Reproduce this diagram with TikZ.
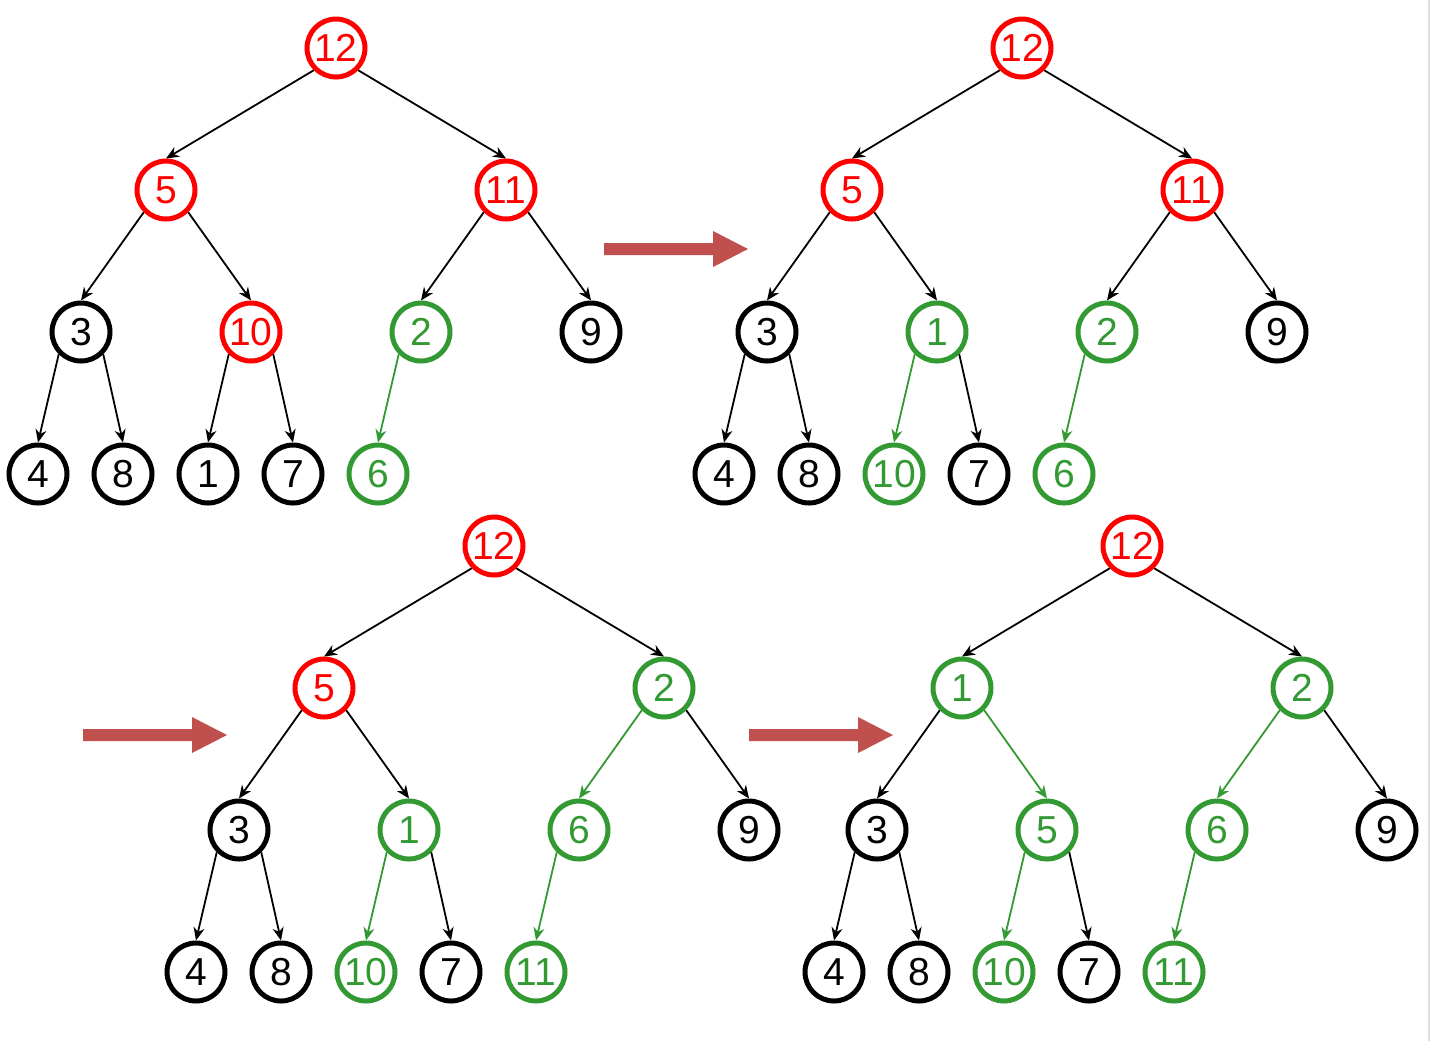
\documentclass[tikz,border=0pt]{standalone}
\usepackage{fontspec}
\setmainfont{Liberation Sans}
\usetikzlibrary{arrows.meta}
\definecolor{rouge}{RGB}{255,0,0}
\definecolor{vert}{RGB}{51,153,51}
\definecolor{fleche}{RGB}{192,80,77}
\definecolor{bord}{RGB}{222,222,222}
\tikzset{
  noeud/.style={circle, draw, line width=2.5pt, minimum size=29pt, inner sep=0pt,
    font=\fontsize{19.5}{21}\selectfont},
  nnoir/.style={noeud, draw=black, text=black},
  nrouge/.style={noeud, draw=rouge, text=rouge},
  nvert/.style={noeud, draw=vert, text=vert},
  arete/.style={-{Stealth[length=6.5pt,width=5.5pt]}, line width=0.9pt},
  areteverte/.style={arete, draw=vert, fill=vert},
}
\begin{document}
\begin{tikzpicture}[x=0.5pt, y=-0.5pt]
\useasboundingbox (0,0) rectangle (1431,1041);

% Bord de page
\draw[bord, line width=1pt] (1429,0) -- (1429,1041);

% Grosses fleches
\foreach \x/\y in {604/249, 83/735, 749/735}
  \fill[fleche, shift={(\x,\y)}] (0,-6) -- (109,-6) -- (109,-18) -- (144,0)
    -- (109,18) -- (109,6) -- (0,6) -- cycle;

% Arbre 1
\begin{scope}[shift={(336,48)}]
\node[nrouge] (a-r) at (0,0) {12};
\node[nrouge] (a-g) at (-170,142) {5};
\node[nrouge] (a-d) at (170,142) {11};
\node[nnoir] (a-gg) at (-255,284) {3};
\node[nrouge] (a-gd) at (-85,284) {10};
\node[nvert] (a-dg) at (85,284) {2};
\node[nnoir] (a-dd) at (255,284) {9};
\node[nnoir] (a-f1) at (-298,426) {4};
\node[nnoir] (a-f2) at (-213,426) {8};
\node[nnoir] (a-f3) at (-128,426) {1};
\node[nnoir] (a-f4) at (-43,426) {7};
\node[nvert] (a-f5) at (42,426) {6};
\draw[arete] (a-r.south west) -- (a-g.north);
\draw[arete] (a-r.south east) -- (a-d.north);
\draw[arete] (a-g.south west) -- (a-gg.north);
\draw[arete] (a-g.south east) -- (a-gd.north);
\draw[arete] (a-d.south west) -- (a-dg.north);
\draw[arete] (a-d.south east) -- (a-dd.north);
\draw[arete] (a-gg.south west) -- (a-f1.north);
\draw[arete] (a-gg.south east) -- (a-f2.north);
\draw[arete] (a-gd.south west) -- (a-f3.north);
\draw[arete] (a-gd.south east) -- (a-f4.north);
\draw[areteverte] (a-dg.south west) -- (a-f5.north);
\end{scope}

% Arbre 2
\begin{scope}[shift={(1022,48)}]
\node[nrouge] (b-r) at (0,0) {12};
\node[nrouge] (b-g) at (-170,142) {5};
\node[nrouge] (b-d) at (170,142) {11};
\node[nnoir] (b-gg) at (-255,284) {3};
\node[nvert] (b-gd) at (-85,284) {1};
\node[nvert] (b-dg) at (85,284) {2};
\node[nnoir] (b-dd) at (255,284) {9};
\node[nnoir] (b-f1) at (-298,426) {4};
\node[nnoir] (b-f2) at (-213,426) {8};
\node[nvert] (b-f3) at (-128,426) {10};
\node[nnoir] (b-f4) at (-43,426) {7};
\node[nvert] (b-f5) at (42,426) {6};
\draw[arete] (b-r.south west) -- (b-g.north);
\draw[arete] (b-r.south east) -- (b-d.north);
\draw[arete] (b-g.south west) -- (b-gg.north);
\draw[arete] (b-g.south east) -- (b-gd.north);
\draw[arete] (b-d.south west) -- (b-dg.north);
\draw[arete] (b-d.south east) -- (b-dd.north);
\draw[arete] (b-gg.south west) -- (b-f1.north);
\draw[arete] (b-gg.south east) -- (b-f2.north);
\draw[areteverte] (b-gd.south west) -- (b-f3.north);
\draw[arete] (b-gd.south east) -- (b-f4.north);
\draw[areteverte] (b-dg.south west) -- (b-f5.north);
\end{scope}

% Arbre 3
\begin{scope}[shift={(494,546)}]
\node[nrouge] (c-r) at (0,0) {12};
\node[nrouge] (c-g) at (-170,142) {5};
\node[nvert] (c-d) at (170,142) {2};
\node[nnoir] (c-gg) at (-255,284) {3};
\node[nvert] (c-gd) at (-85,284) {1};
\node[nvert] (c-dg) at (85,284) {6};
\node[nnoir] (c-dd) at (255,284) {9};
\node[nnoir] (c-f1) at (-298,426) {4};
\node[nnoir] (c-f2) at (-213,426) {8};
\node[nvert] (c-f3) at (-128,426) {10};
\node[nnoir] (c-f4) at (-43,426) {7};
\node[nvert] (c-f5) at (42,426) {11};
\draw[arete] (c-r.south west) -- (c-g.north);
\draw[arete] (c-r.south east) -- (c-d.north);
\draw[arete] (c-g.south west) -- (c-gg.north);
\draw[arete] (c-g.south east) -- (c-gd.north);
\draw[areteverte] (c-d.south west) -- (c-dg.north);
\draw[arete] (c-d.south east) -- (c-dd.north);
\draw[arete] (c-gg.south west) -- (c-f1.north);
\draw[arete] (c-gg.south east) -- (c-f2.north);
\draw[areteverte] (c-gd.south west) -- (c-f3.north);
\draw[arete] (c-gd.south east) -- (c-f4.north);
\draw[areteverte] (c-dg.south west) -- (c-f5.north);
\end{scope}

% Arbre 4
\begin{scope}[shift={(1132,546)}]
\node[nrouge] (d-r) at (0,0) {12};
\node[nvert] (d-g) at (-170,142) {1};
\node[nvert] (d-d) at (170,142) {2};
\node[nnoir] (d-gg) at (-255,284) {3};
\node[nvert] (d-gd) at (-85,284) {5};
\node[nvert] (d-dg) at (85,284) {6};
\node[nnoir] (d-dd) at (255,284) {9};
\node[nnoir] (d-f1) at (-298,426) {4};
\node[nnoir] (d-f2) at (-213,426) {8};
\node[nvert] (d-f3) at (-128,426) {10};
\node[nnoir] (d-f4) at (-43,426) {7};
\node[nvert] (d-f5) at (42,426) {11};
\draw[arete] (d-r.south west) -- (d-g.north);
\draw[arete] (d-r.south east) -- (d-d.north);
\draw[arete] (d-g.south west) -- (d-gg.north);
\draw[areteverte] (d-g.south east) -- (d-gd.north);
\draw[areteverte] (d-d.south west) -- (d-dg.north);
\draw[arete] (d-d.south east) -- (d-dd.north);
\draw[arete] (d-gg.south west) -- (d-f1.north);
\draw[arete] (d-gg.south east) -- (d-f2.north);
\draw[areteverte] (d-gd.south west) -- (d-f3.north);
\draw[arete] (d-gd.south east) -- (d-f4.north);
\draw[areteverte] (d-dg.south west) -- (d-f5.north);
\end{scope}

\end{tikzpicture}
\end{document}
